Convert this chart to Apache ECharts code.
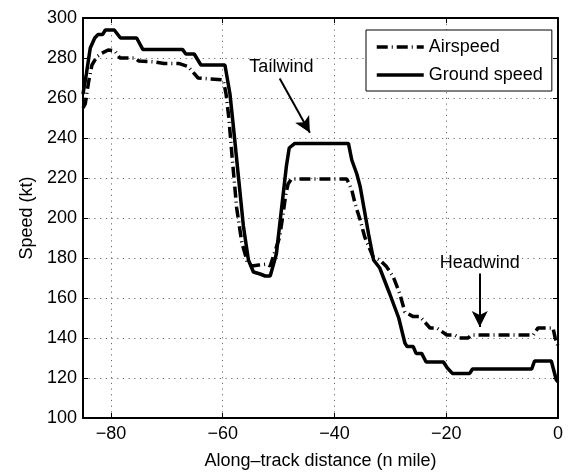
<!DOCTYPE html>
<html>
<head>
<meta charset="utf-8">
<script src="https://cdn.jsdelivr.net/npm/echarts@6/dist/echarts.min.js"></script>
<style>html,body{margin:0;padding:0;background:#fff;}#c{width:570px;height:475px;}</style>
</head>
<body>
<div id="c"></div>
<script>
// ---- data ----
const groundDist = [-85, -84.4, -83.7, -82.9, -82.3, -81.5, -81.0, -79.4, -78.3, -75.4, -74.3, -67.2, -66.6, -65.1, -63.9, -59.6,
  -58.7, -58.1, -57.2, -56.3, -55.4, -54.5, -53.3, -52.4, -51.5, -50.4, -49.5, -48.6, -48.1, -47.1,
  -37.5, -36.9, -36.0, -35.4, -33.9, -33.0, -31.9, -30.1, -28.5, -27.4, -27.0, -25.9, -25.4, -24.4, -23.6, -20.5,
  -19.8, -18.9, -15.8, -15.3, -4.7, -4.2, -1.2, -0.3, 0];
const groundSpeed = [262, 272, 285, 290, 291.7, 291.7, 294, 294, 290, 290, 284.3, 284.3, 282, 282, 276.5, 276.5,
  262, 246, 221, 196, 179, 173, 172, 171, 171, 182, 204, 226, 235, 237.3,
  237.3, 229, 222, 215.7, 192, 179, 175, 162, 150, 137.5, 135.7, 135.7, 132.3, 132.3, 128, 128,
  125, 122.3, 122.3, 124.5, 124.5, 128.5, 128.5, 119, 118];

const airDist = [-85, -84.6, -84.0, -83.4, -82.5, -81.7, -80.5, -79.3, -78.4, -75.7, -75.0, -72.1, -70.5, -67.9, -66.2, -64.4, -59.9,
  -59.4, -58.9, -58.3, -57.5, -56.6, -55.6, -54.8, -53.5, -52.0, -51.5, -50.8, -49.8, -49.2, -48.7, -48.3, -47.7,
  -37.8, -36.9, -36.3, -35.4, -34.6, -33.1, -31.9, -30.7, -29.5, -28.3, -27.4, -25.9, -24.7, -22.9, -21.7, -19.9, -18.5,
  -17.6, -16.1, -15.5, -4.4, -3.6, -0.9, -0.5, 0];
const airSpeed = [255, 257, 268, 276.5, 280.7, 282.3, 284, 283.5, 280, 280, 278.5, 278, 277.3, 277.3, 275.7, 270, 269,
  262, 250, 230, 205, 188, 178, 176, 176.5, 177, 176, 182, 190.6, 202, 212, 217, 219.5,
  219.5, 214, 207, 199, 190.6, 180.6, 179, 175.7, 170.7, 162, 153, 150.7, 150.7, 145, 145, 141.5, 141.5,
  140, 140, 141.5, 141.5, 145, 145, 140, 136];

const seriesNames = ['Airspeed', 'Ground speed'];
const yTicks = [100, 120, 140, 160, 180, 200, 220, 240, 260, 280, 300];
const xTicks = [-80, -60, -40, -20, 0];

const annotations = [
  { text: 'Tailwind', at: [-49.5, 275.6], from: [-49.8, 269.8], to: [-44.4, 242.6] },
  { text: 'Headwind', at: [-14, 177.3], from: [-14, 172.3], to: [-14, 145.5] }
];

// ---- chart ----
const FONT = '"Liberation Sans", Arial, Helvetica, sans-serif';
const zip = (a, b) => a.map((v, i) => [v, b[i]]);
const minus = v => String(v).replace('-', '\u2212');

const chart = echarts.init(document.getElementById('c'), null, { renderer: 'canvas' });
const grid = { left: 83, right: 12, top: 18, bottom: 57, containLabel: false };
const gridLine = { show: true, lineStyle: { color: '#6a6a6a', width: 1, type: [1.2, 4.5] } };

chart.setOption({
  animation: false,
  backgroundColor: '#ffffff',
  textStyle: { fontFamily: FONT },
  grid: grid,
  legend: {
    orient: 'vertical',
    left: 366, top: 30,
    padding: [8, 9, 7, 9],
    itemGap: 10,
    itemWidth: 47, itemHeight: 14,
    backgroundColor: '#ffffff',
    borderColor: '#000', borderWidth: 1,
    itemStyle: { opacity: 0 },
    lineStyle: { width: 3.5 },
    textStyle: { fontSize: 18, color: '#000', fontFamily: FONT },
    data: seriesNames
  },
  xAxis: [{
    type: 'value', min: -85, max: 0, splitNumber: 4,
    name: 'Along\u2013track distance (n mile)', nameLocation: 'middle', nameGap: 34,
    nameTextStyle: { fontSize: 18, color: '#000', fontFamily: FONT },
    axisLine: { show: true, onZero: false, lineStyle: { color: '#000', width: 2 } },
    axisTick: { show: true, inside: true, length: 5, lineStyle: { color: '#000', width: 1 } },
    axisLabel: { fontSize: 18, color: '#000', margin: 7, fontFamily: FONT,
      formatter: v => (xTicks.indexOf(v) >= 0 ? minus(v) : '') },
    splitLine: gridLine
  }, {
    type: 'value', min: -85, max: 0, splitNumber: 4, position: 'top',
    axisLine: { show: true, onZero: false, lineStyle: { color: '#000', width: 2 } },
    axisTick: { show: true, inside: true, length: 5, lineStyle: { color: '#000', width: 1 } },
    axisLabel: { show: false }, splitLine: { show: false }
  }],
  yAxis: [{
    type: 'value', min: yTicks[0], max: yTicks[yTicks.length - 1], interval: 20,
    name: 'Speed (kt)', nameLocation: 'middle', nameGap: 44,
    nameTextStyle: { fontSize: 18, color: '#000', fontFamily: FONT },
    axisLine: { show: true, onZero: false, lineStyle: { color: '#000', width: 2 } },
    axisTick: { show: true, inside: true, length: 5, lineStyle: { color: '#000', width: 1 } },
    axisLabel: { fontSize: 18, color: '#000', margin: 6, fontFamily: FONT },
    splitLine: gridLine
  }, {
    type: 'value', min: yTicks[0], max: yTicks[yTicks.length - 1], interval: 20, position: 'right',
    axisLine: { show: true, onZero: false, lineStyle: { color: '#000', width: 2 } },
    axisTick: { show: true, inside: true, length: 5, lineStyle: { color: '#000', width: 1 } },
    axisLabel: { show: false }, splitLine: { show: false }
  }],
  series: [{
    name: seriesNames[0], type: 'line', xAxisIndex: 0, yAxisIndex: 0,
    data: zip(airDist, airSpeed), showSymbol: false, symbol: 'none',
    lineStyle: { color: '#000', width: 3.5, type: [11, 4, 1, 4], cap: 'butt' },
    itemStyle: { color: '#000' }, z: 3
  }, {
    name: seriesNames[1], type: 'line', xAxisIndex: 0, yAxisIndex: 0,
    data: zip(groundDist, groundSpeed), showSymbol: false, symbol: 'none',
    lineStyle: { color: '#000', width: 3.5, type: 'solid' },
    itemStyle: { color: '#000' }, z: 4,
    markLine: {
      silent: true, animation: false,
      symbol: ['none', 'arrow'], symbolSize: [12, 16],
      lineStyle: { color: '#000', width: 2, type: 'solid' },
      label: { show: false },
      data: annotations.map(a => [{ coord: a.from }, { coord: a.to }])
    },
    markPoint: {
      silent: true, animation: false,
      symbol: 'rect', symbolSize: 1,
      itemStyle: { color: 'rgba(0,0,0,0)' },
      label: { show: true, position: 'inside', fontSize: 18, color: '#000', fontFamily: FONT,
        formatter: p => p.name },
      data: annotations.map(a => ({ name: a.text, coord: a.at }))
    }
  }]
});
</script>
</body>
</html>
